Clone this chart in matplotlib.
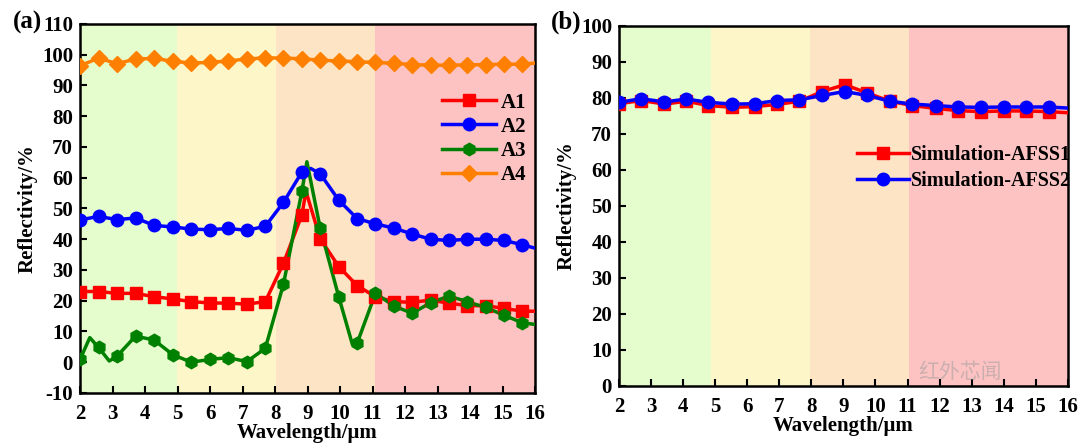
import numpy as np
import matplotlib
matplotlib.use("Agg")
import matplotlib.pyplot as plt
from matplotlib.lines import Line2D

plt.rcParams["font.family"] = ["Liberation Serif", "DejaVu Serif"]
plt.rcParams["font.weight"] = "bold"
plt.rcParams["axes.labelweight"] = "bold"
plt.rcParams["axes.unicode_minus"] = False

# ---- panel (a) data: marker positions + extra points ----
wl_a = [2.0, 2.57, 3.14, 3.71, 4.28, 4.85, 5.42, 5.99, 6.56, 7.13, 7.70, 8.26,
        8.83, 9.39, 9.96, 10.53, 11.09, 11.66, 12.22, 12.79, 13.35, 13.92,
        14.48, 15.05, 15.61]
a1 = [23.0, 23.0, 22.4, 22.4, 21.3, 20.6, 19.7, 19.3, 19.2, 18.9, 19.7, 32.2,
      48.0, 40.2, 31.1, 24.9, 21.3, 19.7, 19.5, 20.2, 19.2, 18.4, 18.4, 17.5, 16.6]
a1_extra_x = [8.95, 16.0]
a1_extra_y = [55.6, 16.6]
a2 = [46.3, 47.4, 46.4, 46.9, 44.5, 44.0, 43.3, 43.1, 43.5, 42.9, 44.2, 52.0,
      61.9, 61.3, 52.7, 46.7, 45.0, 43.6, 41.7, 40.0, 39.6, 40.0, 40.0, 39.6, 38.2]
a2_extra_x = [9.1, 16.0]
a2_extra_y = [63.0, 37.1]
a3 = [0.9, 4.8, 2.0, 8.5, 7.2, 2.5, 0.0, 0.9, 1.5, 0.2, 4.5, 25.4,
      55.8, 43.6, 21.3, 6.3, 22.4, 18.3, 15.9, 19.4, 21.5, 19.7, 17.8, 15.3, 12.8]
a3_extra_x = [2.3, 2.9, 8.98, 10.38, 16.0]
a3_extra_y = [8.0, 0.4, 65.2, 5.8, 12.3]
a4 = [96.4, 98.9, 97.1, 98.6, 98.8, 97.9, 97.3, 97.5, 98.0, 98.6, 99.0, 98.9,
      98.7, 98.2, 98.0, 97.7, 97.5, 97.2, 96.8, 96.6, 96.6, 96.7, 96.8, 96.9, 96.9]
a4_extra_x = [16.0]
a4_extra_y = [97.3]

# ---- panel (b) data ----
wl_b = [2.0, 2.70, 3.42, 4.10, 4.79, 5.54, 6.23, 6.93, 7.63, 8.34, 9.04, 9.74,
        10.45, 11.15, 11.88, 12.57, 13.28, 14.0, 14.69, 15.41]
afss1 = [78.4, 79.3, 78.3, 79.1, 77.9, 77.4, 77.6, 78.2, 79.1, 81.8, 83.7, 81.4,
         79.1, 77.9, 77.1, 76.5, 76.2, 76.4, 76.4, 76.2]
afss2 = [78.8, 79.8, 78.9, 79.7, 78.8, 78.3, 78.4, 79.3, 79.5, 80.7, 81.8, 80.7,
         79.1, 78.3, 77.9, 77.5, 77.4, 77.5, 77.5, 77.5]
b_end_x = 16.0
afss1_end = 75.9
afss2_end = 77.2

bands_a = [(2, 4.99, "#e5fccc"), (4.99, 8.02, "#fdf6c9"), (8.02, 11.08, "#fde4c5"), (11.08, 16, "#fdc3c3")]
bands_b = [(2, 4.88, "#e5fccc"), (4.88, 7.96, "#fdf6c9"), (7.96, 11.04, "#fde4c5"), (11.04, 16, "#fdc3c3")]

LW = 2.5
MS = 9


def merged(x, y, ex, ey):
    xs = np.array(list(x) + list(ex))
    ys = np.array(list(y) + list(ey))
    o = np.argsort(xs)
    return xs[o], ys[o]


def series(ax, x, y, ex, ey, color, marker, label, ms=MS):
    lx, ly = merged(x, y, ex, ey)
    ax.plot(lx, ly, color=color, lw=LW, zorder=3)
    ax.plot(x, y, ls="none", marker=marker, color=color, ms=ms, zorder=4)
    return Line2D([], [], color=color, lw=LW, marker=marker, ms=ms, label=label)


def style(ax, ylo, yhi, bands):
    for lo, hi, c in bands:
        ax.axvspan(lo, hi, color=c, lw=0, zorder=0)
    ax.set_xlim(2, 16)
    ax.set_ylim(ylo, yhi)
    ax.set_xticks(range(2, 17))
    ax.set_yticks(range(ylo, yhi + 1, 10))
    ax.tick_params(direction="in", length=5, width=1.5, labelsize=15, pad=5)
    ax.tick_params(axis="x", pad=8)
    for s in ax.spines.values():
        s.set_linewidth(1.8)
    ax.set_xlabel("Wavelength/μm", fontsize=15, labelpad=-1)
    ax.set_ylabel("Reflectivity/%", fontsize=15, labelpad=3)


fig = plt.figure(figsize=(10.8, 4.45), dpi=100)
ax1 = fig.add_axes([0.0741, 0.1169, 0.4213, 0.8292])
ax2 = fig.add_axes([0.5731, 0.1326, 0.4157, 0.8090])

style(ax1, -10, 110, bands_a)
h = [series(ax1, wl_a, a1, a1_extra_x, a1_extra_y, "#ff0000", "s", "A1"),
     series(ax1, wl_a, a2, a2_extra_x, a2_extra_y, "#0000ff", "o", "A2"),
     series(ax1, wl_a, a3, a3_extra_x, a3_extra_y, "#008000", "h", "A3"),
     series(ax1, wl_a, a4, a4_extra_x, a4_extra_y, "#ff8000", "D", "A4", ms=8)]
ax1.legend(handles=h, loc="upper left", bbox_to_anchor=(0.755, 0.865), frameon=False,
           fontsize=15, handlelength=2.6, handletextpad=0.2, labelspacing=0.2)

style(ax2, 0, 100, bands_b)
h2 = [series(ax2, wl_b, afss1, [b_end_x], [afss1_end], "#ff0000", "s", "Simulation-AFSS1"),
      series(ax2, wl_b, afss2, [b_end_x], [afss2_end], "#0000ff", "o", "Simulation-AFSS2")]
ax2.legend(handles=h2, loc="upper left", bbox_to_anchor=(0.49, 0.72), frameon=False,
           fontsize=14.5, handlelength=2.6, handletextpad=0.1, labelspacing=0.3)

fig.text(0.012, 0.935, "(a)", fontsize=18, fontweight="bold")
fig.text(0.51, 0.935, "(b)", fontsize=18, fontweight="bold")

# watermark
fig.text(0.85, 0.15, "红外芯闻", fontsize=15, color="#9a9a9a", alpha=0.5,
         family=["Noto Sans CJK SC", "DejaVu Sans"], fontweight="normal")

fig.savefig("out.png", dpi=100)
